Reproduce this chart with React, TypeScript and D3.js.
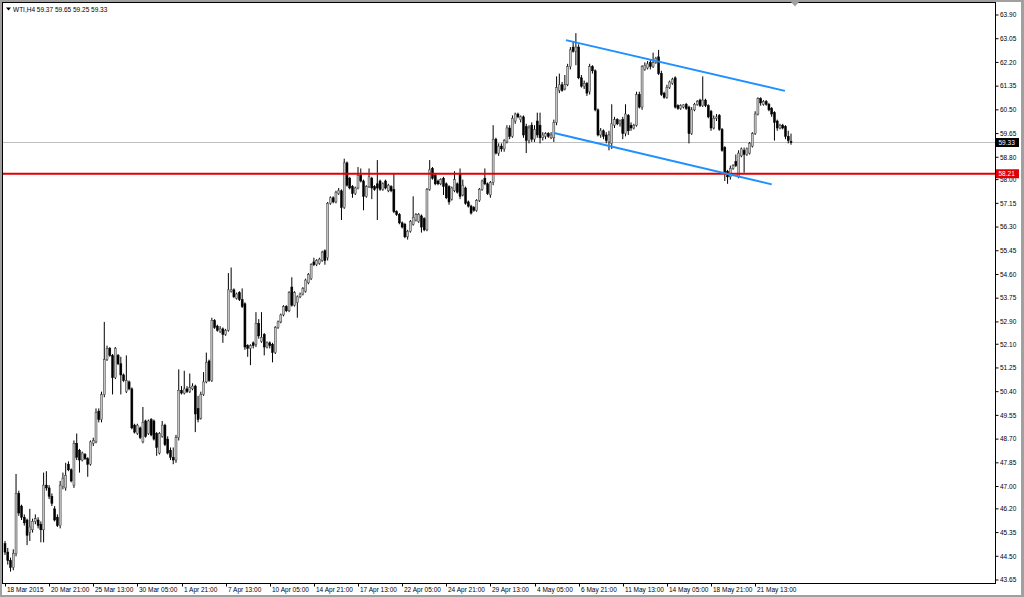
import React from 'react';
import * as d3 from 'd3';

// WTI, H4 candles as [open, high, low, close]
const ohlcMarch: number[][] = [
  [44.95, 45.05, 44.55, 44.65], [44.65, 44.80, 44.20, 44.35], [44.35, 44.45, 43.95, 44.10], [44.10, 44.75, 44.00, 44.60],
  [44.60, 47.45, 44.50, 46.75], [46.75, 46.85, 45.95, 46.05], [46.30, 46.35, 45.80, 45.90], [45.90, 46.00, 45.60, 45.70],
  [45.80, 45.85, 44.90, 45.25], [45.35, 46.20, 45.05, 45.55],
  // 10
  [45.45, 45.85, 45.35, 45.75], [45.75, 46.00, 45.65, 45.85], [45.80, 45.90, 45.50, 45.60], [45.65, 45.75, 45.00, 45.45],
  [45.45, 47.50, 45.00, 47.05], [47.05, 47.55, 46.85, 46.95], [46.95, 47.05, 46.55, 46.65], [46.65, 46.75, 46.30, 46.40],
  [46.20, 46.30, 45.75, 45.80], [45.90, 46.00, 45.55, 45.60],
  // 20
  [45.60, 47.20, 45.50, 47.05], [47.00, 47.50, 46.90, 47.30], [46.95, 47.85, 46.85, 47.40], [47.80, 47.90, 47.55, 47.60],
  [47.60, 47.65, 47.15, 47.20], [47.05, 48.65, 46.95, 48.55], [48.55, 48.90, 47.95, 48.05], [48.30, 48.35, 47.50, 47.95],
  [47.95, 48.25, 47.90, 48.20], [48.15, 48.20, 47.95, 48.00],
  // 30
  [48.00, 48.05, 47.35, 47.80], [47.80, 48.65, 47.75, 48.60], [48.55, 48.75, 48.45, 48.65], [48.60, 49.80, 48.55, 49.65],
  [49.70, 49.80, 49.30, 49.40], [49.40, 50.40, 49.30, 50.30], [50.30, 52.90, 50.20, 51.55], [51.55, 52.05, 51.50, 51.95],
  [51.95, 52.00, 51.65, 51.70], [51.70, 51.75, 50.30, 50.90],
  // 40
  [50.90, 52.00, 50.85, 51.95], [51.70, 51.75, 51.35, 51.40], [51.40, 51.65, 50.30, 51.00], [51.00, 51.05, 50.75, 50.80],
  [50.40, 51.70, 50.35, 50.80], [50.75, 50.80, 50.45, 50.50], [50.50, 50.55, 49.05, 49.10], [49.20, 49.25, 48.90, 48.95],
  [48.90, 49.25, 48.85, 49.20], [49.10, 49.15, 48.70, 48.75],
  // 50
  [48.60, 49.85, 48.55, 49.30], [49.35, 49.40, 48.75, 48.80], [48.90, 49.40, 48.85, 49.35], [49.40, 49.45, 48.80, 48.85],
  [49.35, 49.40, 48.65, 48.70], [48.90, 48.95, 48.10, 48.40], [48.20, 48.95, 48.15, 48.90], [48.80, 49.35, 48.75, 49.20],
  [49.20, 49.25, 48.45, 48.50], [48.70, 48.80, 48.15, 48.20],
];

const ohlcApril: number[][] = [
  // 60
  [48.30, 48.40, 47.95, 48.05], [48.05, 48.40, 47.80, 47.95], [47.95, 48.85, 47.85, 48.75], [48.75, 51.20, 48.65, 50.45],
  [50.45, 50.60, 50.30, 50.35], [50.35, 51.15, 50.30, 50.50], [50.50, 50.60, 50.35, 50.40], [50.40, 51.05, 50.35, 50.55],
  [50.50, 50.70, 50.45, 50.60], [50.60, 50.65, 48.95, 49.60],
  // 70
  [49.80, 50.25, 49.30, 49.40], [49.45, 50.40, 49.40, 50.30], [50.30, 51.10, 50.25, 50.75], [50.75, 51.80, 50.70, 51.45],
  [51.50, 51.55, 50.75, 50.80], [50.80, 53.05, 50.75, 52.95], [52.95, 53.00, 52.65, 52.70], [52.75, 52.80, 52.55, 52.60],
  [52.55, 52.75, 52.50, 52.65], [52.65, 52.70, 52.15, 52.45],
  // 80
  [52.45, 52.65, 52.40, 52.60], [52.60, 54.65, 52.55, 54.05], [54.00, 54.85, 53.95, 54.05], [54.05, 54.10, 53.75, 53.80],
  [53.75, 53.95, 53.70, 53.90], [53.95, 54.00, 53.65, 53.70], [53.70, 54.10, 53.40, 53.45], [53.55, 53.60, 51.90, 52.00],
  [52.05, 52.10, 51.65, 51.95], [51.95, 52.10, 51.35, 52.05],
  // 90
  [52.15, 52.20, 51.95, 52.05], [52.10, 53.25, 52.00, 52.85], [52.85, 53.00, 52.30, 52.40], [52.20, 53.25, 52.15, 52.35],
  [52.45, 52.50, 51.70, 52.00], [52.00, 52.20, 51.95, 52.15], [52.15, 52.20, 51.95, 52.05], [52.10, 52.15, 51.45, 51.80],
  [51.80, 52.75, 51.75, 52.70], [52.70, 52.95, 52.65, 52.90],
  // 100
  [52.90, 53.20, 52.85, 53.15], [53.15, 53.50, 53.10, 53.45], [53.45, 53.50, 53.25, 53.30], [53.30, 54.00, 53.25, 53.95],
  [54.15, 54.50, 53.45, 53.50], [53.50, 54.00, 53.45, 53.95], [53.60, 53.85, 53.05, 53.80], [53.80, 53.95, 53.75, 53.90],
  [53.90, 54.15, 53.85, 54.10], [54.00, 54.45, 53.95, 54.40],
  // 110
  [54.30, 54.65, 54.25, 54.60], [54.45, 55.00, 54.40, 54.95], [55.05, 55.20, 54.90, 54.95], [54.95, 55.15, 54.90, 55.10],
  [55.00, 55.20, 54.95, 55.15], [55.10, 55.45, 55.05, 55.40], [55.45, 55.50, 54.95, 55.10], [55.20, 57.20, 55.10, 57.15],
  [57.15, 57.40, 57.10, 57.35], [57.35, 57.40, 57.15, 57.20],
  // 120
  [57.20, 57.60, 57.15, 57.55], [57.50, 57.70, 57.45, 57.60], [57.60, 57.65, 56.55, 57.00], [57.00, 58.75, 56.95, 58.60],
  [58.60, 58.65, 57.75, 57.80], [58.05, 58.10, 57.65, 57.70], [57.75, 57.80, 57.35, 57.50], [57.50, 57.75, 57.45, 57.70],
  [57.70, 58.45, 57.65, 58.15], [58.15, 58.40, 57.90, 57.95],
  // 130
  [57.95, 58.00, 56.90, 57.40], [57.40, 57.80, 57.35, 57.75], [57.75, 58.40, 57.70, 58.10], [58.05, 58.10, 57.30, 57.70],
  [57.75, 57.80, 57.60, 57.65], [57.85, 58.70, 56.55, 57.70], [57.95, 58.00, 57.60, 57.65], [57.65, 57.90, 57.60, 57.85],
  [57.95, 58.00, 57.65, 57.70], [57.60, 57.85, 57.55, 57.80],
  // 140
  [57.75, 57.80, 57.55, 57.60], [57.65, 58.20, 56.80, 56.85], [56.85, 56.90, 56.70, 56.75], [56.75, 56.80, 56.40, 56.45],
  [56.45, 56.50, 56.25, 56.30], [56.40, 56.45, 55.90, 55.95], [55.95, 56.20, 55.85, 56.15], [56.15, 56.55, 56.10, 56.50],
  [56.40, 57.40, 56.35, 56.65], [56.55, 56.80, 56.50, 56.75],
  // 150
  [56.50, 56.80, 56.45, 56.75], [56.70, 56.75, 56.10, 56.30], [56.60, 56.65, 56.15, 56.20], [56.20, 57.70, 56.15, 57.65],
  [57.65, 58.70, 57.60, 58.35], [58.40, 58.45, 58.00, 58.05], [58.15, 58.20, 57.80, 57.85], [57.95, 58.00, 57.80, 57.85],
  [57.85, 58.05, 57.80, 58.00], [58.05, 58.10, 57.45, 57.75],
  // 160
  [57.85, 57.90, 57.30, 57.35], [57.75, 57.80, 57.10, 57.20], [57.30, 57.75, 57.25, 57.70], [57.60, 58.30, 57.55, 58.00],
  [57.85, 57.90, 57.50, 57.55], [58.20, 58.40, 57.30, 57.40], [57.45, 58.00, 57.40, 57.80], [57.70, 57.75, 57.10, 57.15],
  [57.20, 57.25, 57.00, 57.05], [57.05, 57.10, 56.75, 56.80],
  // 170
  [57.00, 57.05, 56.85, 56.90], [56.90, 57.30, 56.85, 57.25], [57.25, 57.70, 57.20, 57.65], [57.65, 58.00, 57.60, 57.95],
  [58.05, 58.40, 57.80, 57.85], [57.85, 57.90, 57.45, 57.50], [57.45, 57.95, 57.35, 57.90], [57.90, 59.95, 57.80, 59.45],
  [59.45, 59.50, 58.90, 58.95], [58.95, 59.30, 58.85, 59.20],
  // 180
  [59.20, 59.30, 59.00, 59.10], [59.10, 59.45, 59.00, 59.40], [59.35, 59.95, 59.30, 59.85], [59.85, 59.95, 59.45, 59.55],
  [59.55, 60.30, 59.50, 60.20], [60.10, 60.40, 60.00, 60.35], [60.35, 60.40, 60.20, 60.25], [60.15, 60.30, 60.05, 60.25],
  [60.25, 60.30, 59.50, 59.60], [59.90, 60.00, 58.95, 59.40],
];

const ohlcMay: number[][] = [
  // 190
  [59.40, 59.95, 59.30, 59.85], [59.95, 60.05, 59.35, 59.45], [59.45, 59.95, 59.35, 59.80], [60.10, 60.40, 59.50, 59.60],
  [59.95, 60.40, 59.30, 59.50], [59.50, 59.70, 59.40, 59.60], [59.55, 59.70, 59.45, 59.65], [59.65, 59.70, 59.50, 59.55],
  [59.50, 59.70, 59.45, 59.60], [59.50, 60.15, 59.35, 60.05],
  // 200
  [60.05, 61.70, 59.95, 61.30], [61.20, 61.80, 61.10, 61.40], [61.40, 61.50, 61.15, 61.20], [61.25, 61.75, 61.20, 61.40],
  [61.40, 62.15, 61.35, 62.05], [62.05, 62.75, 61.95, 62.65], [62.75, 62.95, 62.55, 62.60], [62.60, 63.25, 62.10, 62.75],
  [62.75, 62.85, 61.60, 61.65], [61.65, 61.75, 61.30, 61.35],
  // 210
  [61.35, 61.55, 61.25, 61.45], [61.45, 61.50, 61.00, 61.10], [61.15, 62.15, 61.05, 62.05], [62.05, 62.10, 61.80, 61.90],
  [61.90, 61.95, 60.45, 60.50], [60.50, 60.55, 59.55, 59.60], [59.60, 59.85, 59.50, 59.75], [59.75, 59.80, 59.45, 59.55],
  [59.60, 59.70, 59.30, 59.40], [59.35, 59.75, 59.05, 59.60],
  // 220
  [59.30, 60.70, 59.10, 60.00], [59.95, 60.25, 59.85, 60.15], [60.15, 60.20, 59.95, 60.00], [60.00, 60.15, 59.90, 60.10],
  [60.15, 60.25, 59.45, 59.65], [59.65, 60.70, 59.55, 60.35], [60.30, 60.35, 59.60, 59.75], [59.95, 60.05, 59.75, 59.85],
  [59.85, 60.00, 59.80, 59.95], [59.95, 61.15, 59.90, 61.05],
  // 230
  [61.05, 61.15, 60.55, 60.60], [60.60, 62.10, 60.50, 62.05], [61.95, 62.20, 61.90, 62.10], [62.00, 62.25, 61.95, 62.15],
  [62.20, 62.30, 61.95, 62.05], [62.05, 62.55, 62.00, 62.20], [62.20, 62.40, 62.15, 62.35], [62.40, 62.65, 61.75, 61.80],
  [61.80, 61.90, 61.00, 61.05], [61.10, 61.15, 60.90, 60.95],
  // 240
  [60.95, 61.40, 60.90, 61.30], [61.30, 61.55, 61.25, 61.50], [61.45, 61.65, 61.40, 61.60], [61.65, 61.70, 60.55, 60.60],
  [60.65, 60.70, 60.50, 60.55], [60.55, 60.70, 60.50, 60.65], [60.60, 60.70, 60.55, 60.68], [60.70, 60.75, 60.50, 60.55],
  [60.60, 60.65, 59.30, 59.65], [59.65, 60.60, 59.60, 60.50],
  // 250
  [60.50, 60.75, 60.45, 60.70], [60.70, 60.85, 60.65, 60.80], [60.85, 60.90, 60.60, 60.65], [60.65, 61.70, 60.60, 60.85],
  [60.85, 60.90, 60.60, 60.65], [60.65, 60.70, 60.20, 60.25], [60.45, 60.50, 59.75, 59.85], [59.85, 60.30, 59.80, 60.20],
  [60.20, 60.35, 60.10, 60.25], [60.30, 60.35, 59.75, 59.80],
  // 260
  [59.80, 59.85, 59.00, 59.05], [59.15, 59.20, 57.95, 58.25], [58.30, 58.35, 57.85, 58.10], [58.10, 58.50, 58.00, 58.40],
  [58.40, 58.55, 58.35, 58.50], [58.65, 58.90, 58.45, 58.50], [58.10, 59.05, 58.05, 58.95], [58.85, 59.15, 58.80, 59.10],
  [59.05, 59.15, 58.25, 58.90], [58.90, 59.15, 58.85, 59.10],
  // 270
  [58.95, 59.35, 58.90, 59.30], [59.20, 59.70, 59.15, 59.65], [59.65, 60.45, 59.60, 60.35], [60.35, 60.95, 60.30, 60.90],
  [60.90, 60.95, 60.65, 60.75], [60.70, 60.85, 60.65, 60.80], [60.80, 60.85, 60.65, 60.70], [60.70, 60.75, 60.45, 60.50],
  [60.55, 60.60, 60.25, 60.35], [60.40, 60.45, 59.40, 60.05],
  // 280
  [60.10, 60.15, 59.75, 59.85], [59.85, 60.00, 59.80, 59.95], [59.95, 60.00, 59.80, 59.85], [59.90, 59.95, 59.45, 59.55],
  [59.55, 59.75, 59.30, 59.40], [59.37, 59.65, 59.25, 59.33],
];

const priceTickLabels = [
  '63.90', '63.05', '62.20', '61.35', '60.50', '59.65', '58.80', '58.00', '57.15', '56.30', '55.45', '54.60', '53.75',
  '52.90', '52.10', '51.25', '50.40', '49.55', '48.70', '47.85', '47.00', '46.20', '45.35', '44.50', '43.65',
];

const timeTickLabels = [
  '18 Mar 2015', '20 Mar 21:00', '25 Mar 13:00', '30 Mar 05:00', '1 Apr 21:00', '7 Apr 13:00', '10 Apr 05:00',
  '14 Apr 21:00', '17 Apr 13:00', '22 Apr 05:00', '24 Apr 21:00', '29 Apr 13:00', '4 May 05:00', '6 May 21:00',
  '11 May 13:00', '14 May 05:00', '18 May 21:00', '21 May 13:00',
];
const timeTickBars = [0, 16, 32, 48, 64, 80, 96, 112, 128, 144, 160, 176, 192, 208, 224, 240, 256, 272];

// channel trend lines: [barIndex, price]
const channelUpper = [[203.4, 63.0], [282.8, 61.18]];
const channelLower = [[199.1, 59.67], [278.0, 57.83]];

const supportLevel = 58.21;
const bidPrice = 59.33;
const symbolTitle = 'WTI,H4';
const lastBar = ['59.37', '59.65', '59.25', '59.33'];

const W = 1024;
const H = 597;
const PLOT_L = 2.5;
const PLOT_R = 995.5;
const PLOT_T = 2.5;
const PLOT_B = 583.5;
const FONT = '"Liberation Sans", Arial, sans-serif';

export default function App() {
  const bars = [...ohlcMarch, ...ohlcApril, ...ohlcMay];
  const x = d3.scaleLinear().domain([0, bars.length - 1]).range([5, 791]);
  const y = d3.scaleLinear().domain([43.65, 63.9]).range([580, 15]);
  const bodyW = 2.0;
  const line = d3.line<number[]>().x((d) => x(d[0])).y((d) => y(d[1]));

  return (
    <svg width={W} height={H} style={{ position: 'absolute', left: 0, top: 0, background: '#fff' }}>
      <rect x={0} y={0} width={W} height={H} fill="#a0a0a0" />
      <rect x={2} y={2} width={W - 5} height={H - 4} fill="#ffffff" />
      <defs>
        <clipPath id="plot">
          <rect x={PLOT_L} y={PLOT_T} width={PLOT_R - PLOT_L} height={PLOT_B - PLOT_T} />
        </clipPath>
      </defs>

      {/* bid line */}
      <line x1={PLOT_L} x2={PLOT_R} y1={y(bidPrice)} y2={y(bidPrice)} stroke="#c0c0c0" strokeWidth={1} />

      <g clipPath="url(#plot)">
        {bars.map((b, i) => {
          const [o, hRaw, lRaw, c] = b;
          const h = Math.max(hRaw, o, c);
          const l = Math.min(lRaw, o, c);
          const cx = x(i);
          const up = c >= o;
          const top = y(Math.max(o, c));
          const bh = Math.max(1, y(Math.min(o, c)) - top);
          return (
            <g key={i}>
              <line x1={cx} x2={cx} y1={y(h)} y2={y(l)} stroke="#000" strokeWidth={1} />
              <rect
                x={cx - bodyW / 2}
                y={top}
                width={bodyW}
                height={bh}
                fill={up ? '#c4c4c4' : '#000'}
                stroke={up ? '#3a3a3a' : '#000'}
                strokeWidth={0.5}
              />
            </g>
          );
        })}
      </g>

      {/* support level */}
      <line x1={PLOT_L} x2={PLOT_R} y1={y(supportLevel)} y2={y(supportLevel)} stroke="#e00000" strokeWidth={2} />

      {/* channel */}
      <path d={line(channelUpper) || ''} stroke="#1e90ff" strokeWidth={2} fill="none" />
      <path d={line(channelLower) || ''} stroke="#1e90ff" strokeWidth={2} fill="none" />

      {/* plot frame */}
      <rect x={PLOT_L} y={PLOT_T} width={PLOT_R - PLOT_L} height={PLOT_B - PLOT_T} fill="none" stroke="#000" strokeWidth={1} />

      {/* chart shift marker */}
      <polygon points="791,2 799,2 795,6.5" fill="#a0a0a0" />

      {/* header */}
      <polygon points="6,7.5 11,7.5 8.5,10.5" fill="#000" />
      <text x={13} y={11.5} fontFamily={FONT} fontSize={6.5} fill="#000">
        {`${symbolTitle}  ${lastBar.join(' ')}`}
      </text>

      {/* price axis */}
      {priceTickLabels.map((t) => {
        const yy = y(+t);
        return (
          <g key={t}>
            <line x1={PLOT_R} x2={PLOT_R + 3} y1={yy} y2={yy} stroke="#000" strokeWidth={1} />
            <text x={1000} y={yy} dy="0.35em" fontFamily={FONT} fontSize={6.5} fill="#000">
              {t}
            </text>
          </g>
        );
      })}

      {/* price tags */}
      {[
        { v: bidPrice, fill: '#000' },
        { v: supportLevel, fill: '#e00000' },
      ].map((p) => (
        <g key={p.v}>
          <rect x={996} y={y(p.v) - 4.5} width={23} height={9} fill={p.fill} />
          <text x={998.5} y={y(p.v)} dy="0.35em" fontFamily={FONT} fontSize={6.5} fill="#fff">
            {p.v.toFixed(2)}
          </text>
        </g>
      ))}

      {/* time axis */}
      {timeTickLabels.map((t, k) => {
        const xx = Math.round(x(timeTickBars[k])) + 0.5;
        return (
          <g key={t}>
            <line x1={xx} x2={xx} y1={PLOT_B} y2={PLOT_B + 3} stroke="#000" strokeWidth={1} />
            <text x={xx + 1.5} y={592} fontFamily={FONT} fontSize={6.5} fill="#000">
              {t}
            </text>
          </g>
        );
      })}
    </svg>
  );
}
